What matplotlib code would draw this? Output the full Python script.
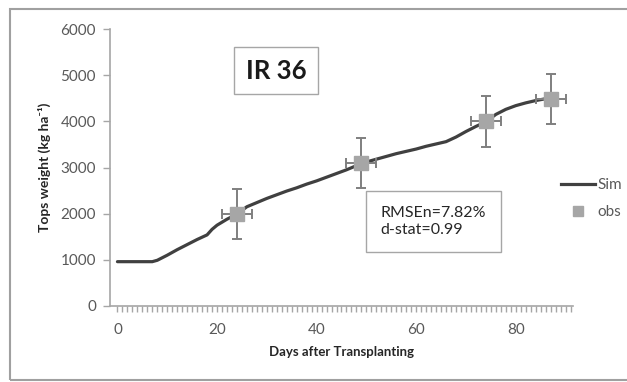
import matplotlib.pyplot as plt
from matplotlib.lines import Line2D
from matplotlib.patches import Rectangle

plt.rcParams["font.family"] = ["Lato", "DejaVu Sans"]

# simulated tops weight (kg/ha) by days after transplanting
sim_days = [0, 7, 8, 10, 12, 14, 16, 18, 19, 20, 22, 24, 26, 28, 30, 32, 34, 36,
            38, 40, 42, 44, 46, 48, 50, 52, 54, 56, 58, 60, 62, 64, 66, 68, 70,
            72, 74, 76, 78, 80, 82, 84, 86, 87]
sim_vals = [960, 960, 990, 1100, 1220, 1330, 1440, 1540, 1660, 1750, 1880, 1990,
            2150, 2240, 2330, 2410, 2490, 2560, 2640, 2710, 2790, 2870, 2950,
            3040, 3120, 3180, 3240, 3300, 3350, 3400, 3460, 3510, 3560, 3660,
            3780, 3890, 3990, 4150, 4260, 4340, 4400, 4450, 4490, 4500]

# observations with error bars
obs_days = [24, 49, 74, 87]
obs_vals = [1990, 3100, 4000, 4480]
obs_yerr = [535, 550, 545, 540]
obs_xerr = [3, 3, 3, 3]

x_ticks = [0, 20, 40, 60, 80]
y_ticks = [0, 1000, 2000, 3000, 4000, 5000, 6000]

axis_grey = "#a6a6a6"
text_grey = "#595959"

fig = plt.figure(figsize=(6.27, 3.82), dpi=100)
ax = fig.add_axes([0.1754, 0.199, 0.7385, 0.725])

ax.plot(sim_days, sim_vals, color="#404040", lw=2.3, solid_capstyle="round",
        zorder=3)
ax.errorbar(obs_days, obs_vals, yerr=obs_yerr, xerr=obs_xerr, fmt="s",
            color="#a6a6a6", ms=10, ecolor="#7f7f7f", elinewidth=1.4,
            capsize=3.5, capthick=1.4, zorder=4)

ax.set_xlim(-1.5, 91.5)
ax.set_ylim(0, 6000)
ax.set_xticks(x_ticks)
ax.set_xticks(range(0, 92), minor=True)
ax.set_yticks(y_ticks)

for side in ("top", "right"):
    ax.spines[side].set_visible(False)
for side in ("left", "bottom"):
    ax.spines[side].set_color(axis_grey)
    ax.spines[side].set_linewidth(1.2)

ax.tick_params(axis="x", which="both", length=4, color=axis_grey, width=1.0,
               pad=8, labelsize=11, labelcolor=text_grey)
ax.tick_params(axis="y", length=5, color=axis_grey, width=1.0, pad=5,
               labelsize=11, labelcolor=text_grey)

ax.set_xlabel("Days after Transplanting", fontsize=9.5, fontweight="bold",
              color="#262626", labelpad=7)
ax.set_ylabel("Tops weight (kg ha\u207b\u00b9)", fontsize=10,
              fontweight="bold", color="#262626", labelpad=7)

# cultivar label and fit statistics
ax.text(0.359, 0.85, "IR 36", transform=ax.transAxes, fontsize=18.5,
        fontweight="bold", color="#1a1a1a", ha="center", va="center",
        bbox=dict(boxstyle="square,pad=0.45", fc="white", ec=axis_grey, lw=1.0))
ax.text(0.585, 0.305, "RMSEn=7.82%\nd-stat=0.99", transform=ax.transAxes,
        fontsize=11.5, color="#262626", ha="left", va="center",
        linespacing=1.35,
        bbox=dict(boxstyle="square,pad=0.9", fc="white", ec=axis_grey, lw=1.0))

handles = [
    Line2D([], [], color="#404040", lw=2.3),
    Line2D([], [], marker="s", ls="none", color="#a6a6a6", ms=7),
]
fig.legend(handles, ["Sim", "obs"], loc="center left",
           bbox_to_anchor=(0.873, 0.48), frameon=False, fontsize=11,
           handlelength=2.2, handletextpad=0.15, labelspacing=0.85,
           labelcolor=text_grey)

# outer chart border
fig.patches.append(Rectangle((10 / 627, 2 / 382), 1.0, 371 / 382,
                             transform=fig.transFigure, fill=False,
                             ec="#a0a0a0", lw=1.5))

fig.savefig("out.png", dpi=100)
